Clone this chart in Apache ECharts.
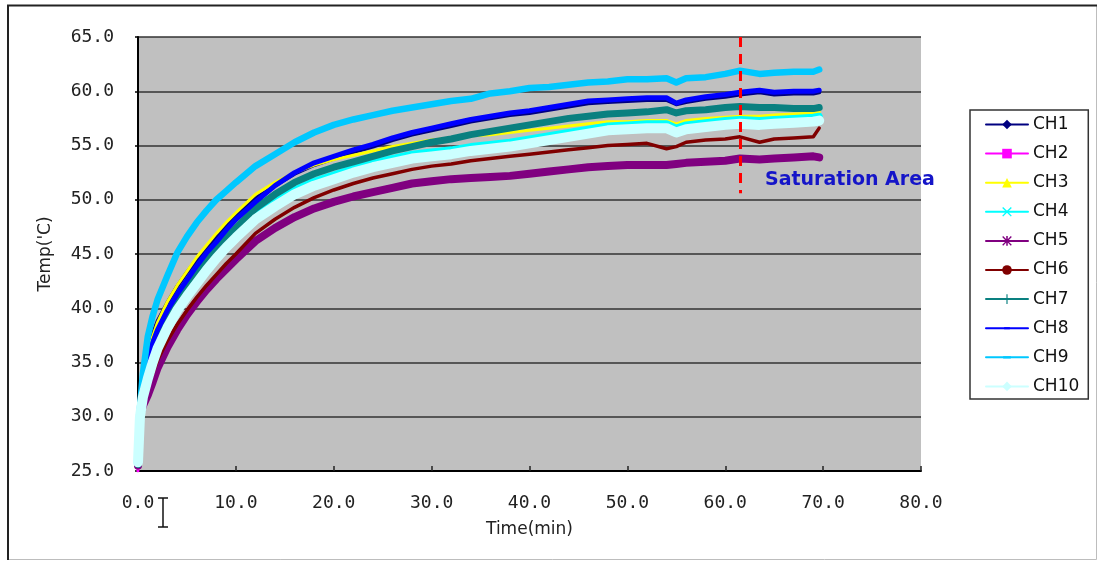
<!DOCTYPE html>
<html>
<head>
<meta charset="utf-8">
<script src="https://cdn.jsdelivr.net/npm/echarts@6/dist/echarts.min.js"></script>
<style>
  html, body { margin: 0; padding: 0; background: #ffffff; }
  #chart { width: 1098px; height: 561px; }
</style>
</head>
<body>
<div id="chart"></div>
<script>
// Sampling times (min)
const timeMin = [0, 0.2, 0.5, 1, 1.5, 2, 3, 4, 5, 6, 7, 8, 9, 10, 12, 14, 16, 18, 20, 22, 24, 26, 28, 30,
  32, 34, 36, 38, 40, 42, 44, 46, 48, 50, 52, 54, 55, 56, 58, 60, 61.5, 63.5, 65, 67, 69, 69.6];

// Channel temperatures ('C)
const ch1 = [25.9, 31.0, 33.8, 36.0, 37.6, 38.8, 40.5, 42.0, 43.3, 44.5, 45.6, 46.6, 47.6, 48.5, 50.1, 51.3, 52.4, 53.2, 53.8, 54.4, 54.9, 55.5, 56.0, 56.4,
  56.8, 57.2, 57.5, 57.8, 58.0, 58.3, 58.6, 58.9, 59.0, 59.1, 59.2, 59.2, 58.8, 59.0, 59.3, 59.5, 59.7, 59.9, 59.7, 59.8, 59.8, 59.9];
const ch2 = [25.0, 30.2, 32.0, 33.6, 35.1, 36.4, 38.3, 39.8, 41.1, 42.3, 43.4, 44.5, 45.5, 46.4, 48.1, 49.3, 50.4, 51.2, 51.8, 52.4, 52.9, 53.3, 53.7, 53.9,
  54.1, 54.4, 54.6, 54.8, 55.1, 55.4, 55.7, 56.0, 56.3, 56.4, 56.5, 56.5, 56.1, 56.4, 56.6, 56.8, 56.9, 56.8, 56.9, 57.0, 57.1, 57.6];
const ch3 = [25.8, 30.5, 33.5, 35.8, 37.4, 38.7, 40.6, 42.1, 43.4, 44.7, 45.8, 46.9, 47.9, 48.8, 50.5, 51.6, 52.5, 53.2, 53.7, 54.1, 54.5, 54.9, 55.2, 55.5,
  55.7, 55.9, 56.0, 56.2, 56.4, 56.6, 56.8, 57.0, 57.2, 57.2, 57.3, 57.3, 57.0, 57.3, 57.5, 57.6, 57.7, 57.7, 57.8, 57.9, 58.0, 58.1];
const ch4 = [25.7, 30.4, 32.3, 34.0, 35.5, 36.8, 38.7, 40.3, 41.6, 42.8, 44.0, 45.1, 46.0, 46.9, 48.6, 49.8, 50.9, 51.7, 52.3, 52.9, 53.4, 53.8, 54.2, 54.4,
  54.6, 54.9, 55.1, 55.3, 55.6, 55.9, 56.2, 56.5, 56.8, 56.9, 57.0, 57.0, 56.6, 56.9, 57.1, 57.3, 57.4, 57.3, 57.4, 57.5, 57.6, 57.7];
const ch5 = [25.5, 30.2, 31.0, 32.0, 33.2, 34.5, 36.4, 38.0, 39.4, 40.6, 41.7, 42.7, 43.6, 44.5, 46.2, 47.4, 48.4, 49.2, 49.8, 50.3, 50.7, 51.1, 51.5, 51.7,
  51.9, 52.0, 52.1, 52.2, 52.4, 52.6, 52.8, 53.0, 53.1, 53.2, 53.2, 53.2, 53.3, 53.4, 53.5, 53.6, 53.8, 53.7, 53.8, 53.9, 54.0, 53.9];
const ch6 = [26.0, 30.6, 31.5, 32.8, 34.0, 35.2, 37.0, 38.5, 39.8, 41.0, 42.1, 43.1, 44.1, 45.0, 46.9, 48.2, 49.3, 50.2, 50.9, 51.5, 52.0, 52.4, 52.8, 53.1,
  53.3, 53.6, 53.8, 54.0, 54.2, 54.4, 54.6, 54.8, 55.0, 55.1, 55.2, 54.7, 54.9, 55.3, 55.5, 55.6, 55.8, 55.3, 55.6, 55.7, 55.8, 56.6];
const ch7 = [25.6, 30.3, 32.8, 35.0, 36.5, 37.7, 39.5, 41.0, 42.3, 43.5, 44.6, 45.6, 46.5, 47.4, 49.2, 50.5, 51.6, 52.4, 53.0, 53.5, 54.0, 54.5, 54.9, 55.3,
  55.6, 56.0, 56.3, 56.6, 56.9, 57.2, 57.5, 57.7, 57.9, 58.0, 58.1, 58.3, 58.0, 58.2, 58.3, 58.5, 58.6, 58.5, 58.5, 58.4, 58.4, 58.5];
const ch8 = [25.8, 30.5, 33.0, 35.2, 36.8, 38.0, 39.8, 41.3, 42.6, 43.9, 45.1, 46.1, 47.2, 48.2, 49.8, 51.3, 52.5, 53.4, 54.0, 54.6, 55.1, 55.7, 56.2, 56.6,
  57.0, 57.4, 57.7, 58.0, 58.2, 58.5, 58.8, 59.1, 59.2, 59.3, 59.4, 59.4, 58.9, 59.2, 59.5, 59.7, 59.9, 60.1, 59.9, 60.0, 60.0, 60.1];
const ch9 = [26.0, 30.8, 34.0, 37.4, 39.3, 40.8, 43.0, 45.1, 46.6, 47.9, 49.0, 50.0, 50.8, 51.6, 53.1, 54.2, 55.3, 56.2, 56.9, 57.4, 57.8, 58.2, 58.5, 58.8,
  59.1, 59.3, 59.8, 60.0, 60.3, 60.4, 60.6, 60.8, 60.9, 61.1, 61.1, 61.2, 60.8, 61.2, 61.3, 61.6, 61.9, 61.6, 61.7, 61.8, 61.8, 62.0];
const ch10 = [25.8, 30.0, 31.8, 33.5, 35.0, 36.3, 38.2, 39.8, 41.1, 42.3, 43.5, 44.6, 45.6, 46.5, 48.2, 49.4, 50.5, 51.3, 51.9, 52.5, 53.0, 53.4, 53.8, 54.0,
  54.2, 54.5, 54.7, 54.9, 55.2, 55.5, 55.8, 56.1, 56.4, 56.5, 56.6, 56.6, 56.2, 56.5, 56.7, 56.9, 57.0, 56.9, 57.0, 57.1, 57.2, 57.3];

const channelNames = ['CH1', 'CH2', 'CH3', 'CH4', 'CH5', 'CH6', 'CH7', 'CH8', 'CH9', 'CH10'];
const channelValues = [ch1, ch2, ch3, ch4, ch5, ch6, ch7, ch8, ch9, ch10];

// Axis ranges
const tempMin = 25, tempMax = 65, tempStep = 5;
const timeAxisMin = 0, timeAxisMax = 80, timeStep = 10;

// Saturation marker
const saturationTime = 61.5;
const saturationSpan = [65, 50.6];
const saturationText = 'Saturation Area';

// Line styling per channel
const SYM_X = 'path://M0,1L1,0L5,4L9,0L10,1L6,5L10,9L9,10L5,6L1,10L0,9L4,5Z';
const SYM_STAR = 'path://M0,1L1,0L5,4L9,0L10,1L6,5L10,9L9,10L5,6L1,10L0,9L4,5Z M4.2,0H5.8V10H4.2Z M0,4.2H10V5.8H0Z';
const SYM_PLUS = 'path://M4.4,0H5.6V4.4H10V5.6H5.6V10H4.4V5.6H0V4.4H4.4Z';
const SYM_DASH = 'path://M0,0H0.01V0.01H0Z M2,4H8V6H2Z M9.99,9.99H10V10H9.99Z';
const SYM_DASH_WIDE = 'path://M0,0H0.01V0.01H0Z M1,3.8H9V6.2H1Z M9.99,9.99H10V10H9.99Z';
const styles = [
  { color: '#000080', symbol: 'diamond', width: 4 },
  { color: '#ff00ff', symbol: 'rect', width: 3 },
  { color: '#ffff00', symbol: 'triangle', width: 3 },
  { color: '#00ffff', symbol: SYM_X, width: 7 },
  { color: '#800080', symbol: SYM_STAR, width: 8 },
  { color: '#800000', symbol: 'circle', width: 3.5 },
  { color: '#0a8080', symbol: SYM_PLUS, width: 7 },
  { color: '#0000ff', symbol: SYM_DASH, width: 5 },
  { color: '#00c8ff', symbol: SYM_DASH_WIDE, width: 6.5 },
  { color: '#ccffff', symbol: 'diamond', width: 10 }
];

const series = channelNames.map((name, i) => ({
  name: name,
  type: 'line',
  data: timeMin.map((t, k) => [t, channelValues[i][k]]),
  symbol: styles[i].symbol,
  showSymbol: false,
  smooth: false,
  lineStyle: { color: styles[i].color, width: styles[i].width, join: 'round', cap: 'round' },
  itemStyle: { color: styles[i].color },
  emphasis: { disabled: true },
  animation: false
}));

// Red dashed saturation boundary
series.push({
  name: 'saturation',
  type: 'line',
  data: [],
  silent: true,
  markLine: {
    silent: true,
    symbol: ['none', 'none'],
    label: { show: false },
    lineStyle: { color: '#ff0000', width: 3, type: [10, 7] },
    data: [[{ coord: [saturationTime, saturationSpan[0]] }, { coord: [saturationTime, saturationSpan[1]] }]]
  },
  animation: false
});

const chart = echarts.init(document.getElementById('chart'), null, { renderer: 'canvas' });
chart.setOption({
  backgroundColor: '#ffffff',
  animation: false,
  grid: {
    left: 138, right: 177, top: 37, bottom: 90,
    show: true, backgroundColor: '#c0c0c0', borderWidth: 0
  },
  xAxis: {
    type: 'value',
    min: timeAxisMin, max: timeAxisMax, interval: timeStep,
    name: 'Time(min)',
    nameLocation: 'middle',
    nameGap: 50,
    nameTextStyle: { fontFamily: 'DejaVu Sans', fontSize: 17, color: '#222' },
    axisLine: { show: true, onZero: false, lineStyle: { color: '#000', width: 2 } },
    axisTick: { show: true, inside: true, length: 5, lineStyle: { color: '#222', width: 1.5 } },
    axisLabel: {
      margin: 23, fontFamily: 'DejaVu Sans Mono', fontSize: 18, color: '#222',
      formatter: v => v.toFixed(1)
    },
    splitLine: { show: false }
  },
  yAxis: {
    type: 'value',
    min: tempMin, max: tempMax, interval: tempStep,
    name: "Temp('C)",
    nameLocation: 'middle',
    nameGap: 84,
    nameRotate: 90,
    nameTextStyle: { fontFamily: 'DejaVu Sans', fontSize: 17, color: '#222' },
    axisLine: { show: true, onZero: false, lineStyle: { color: '#000', width: 2 } },
    axisTick: { show: true, inside: false, length: 3, lineStyle: { color: '#000', width: 1.5 } },
    axisLabel: {
      margin: 24, fontFamily: 'DejaVu Sans Mono', fontSize: 18, color: '#222',
      formatter: v => v.toFixed(1)
    },
    splitLine: { show: true, lineStyle: { color: '#333', width: 1.5 } }
  },
  legend: {
    data: channelNames,
    orient: 'vertical',
    left: 970, top: 110,
    padding: [6, 9, 4, 15],
    itemWidth: 42, itemHeight: 12, itemGap: 12.1,
    backgroundColor: '#ffffff',
    borderColor: '#333', borderWidth: 1.5, borderRadius: 0,
    lineStyle: { width: 2 },
    textStyle: { fontFamily: 'DejaVu Sans', fontSize: 17, color: '#111' },
    selectedMode: false
  },
  graphic: [
    // frame around the chart
    { type: 'polyline', silent: true, shape: { points: [[1096.5, 5], [1096.5, 559.5], [8, 559.5]] },
      style: { stroke: '#bdbdbd', lineWidth: 1, fill: null } },
    { type: 'polyline', silent: true, shape: { points: [[8, 560], [8, 5.5], [1097, 5.5]] },
      style: { stroke: '#222', lineWidth: 2, fill: null } },
    // text cursor beside the origin label
    { type: 'group', silent: true, children: [
      { type: 'line', shape: { x1: 163, y1: 498, x2: 163, y2: 527 }, style: { stroke: '#111', lineWidth: 1.5 } },
      { type: 'line', shape: { x1: 158, y1: 498, x2: 168, y2: 498 }, style: { stroke: '#111', lineWidth: 1.5 } },
      { type: 'line', shape: { x1: 158, y1: 527, x2: 168, y2: 527 }, style: { stroke: '#111', lineWidth: 1.5 } }
    ] },
    // annotation
    { type: 'text', silent: true, left: 765, top: 171,
      style: { text: saturationText, fill: '#1515c8', font: 'bold 19px "DejaVu Sans", sans-serif' } }
  ],
  series: series
});
</script>
</body>
</html>
